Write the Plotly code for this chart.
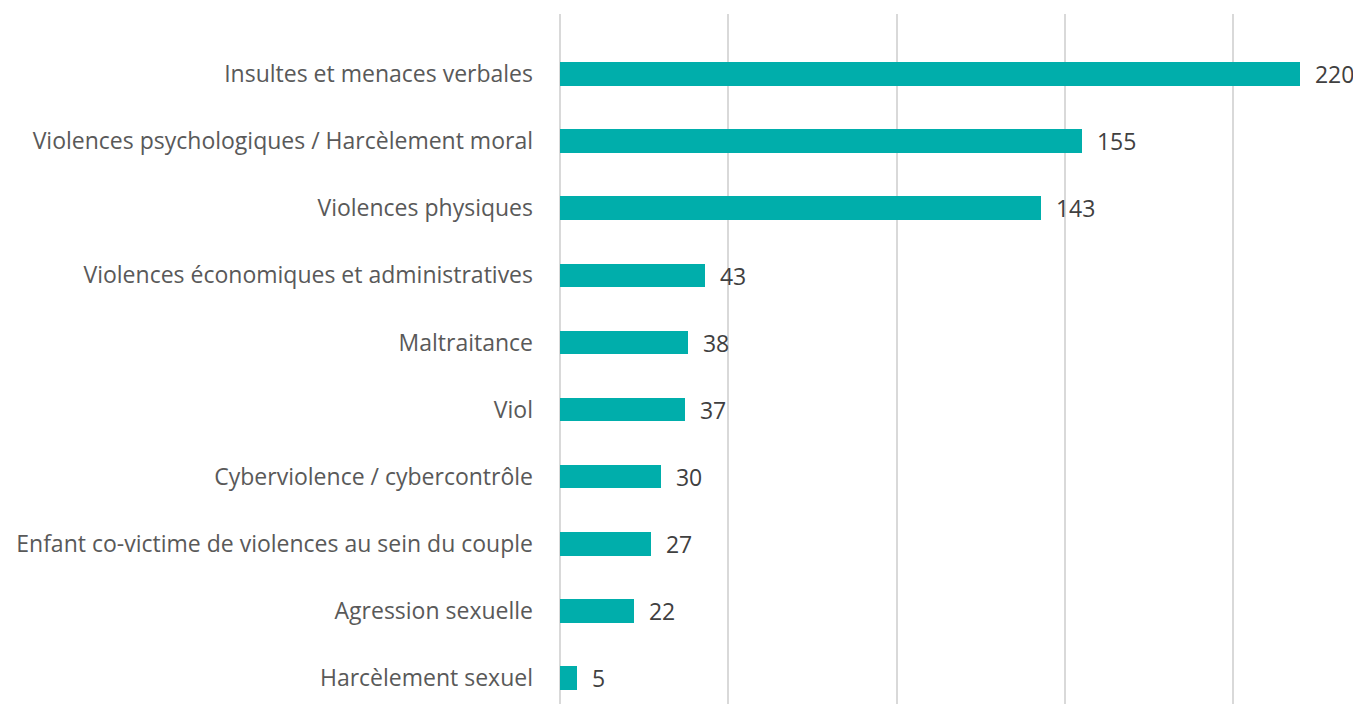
import plotly.graph_objects as go

categories = [
    "Harcèlement sexuel",
    "Agression sexuelle",
    "Enfant co-victime de violences au sein du couple",
    "Cyberviolence / cybercontrôle",
    "Viol",
    "Maltraitance",
    "Violences économiques et administratives",
    "Violences physiques",
    "Violences psychologiques / Harcèlement moral",
    "Insultes et menaces verbales",
]
values = [5, 22, 27, 30, 37, 38, 43, 143, 155, 220]
grid_ticks = [0, 50, 100, 150, 200]

FONT = "Open Sans"
fig = go.Figure(go.Bar(
    x=values, y=categories, orientation="h",
    marker=dict(color="#00AEAB", line=dict(width=0)),
    width=0.35,
    text=[f"  {v}" for v in values],
    textposition="outside",
    constraintext="none",
    textfont=dict(family=FONT, size=23, color="#404040"),
    cliponaxis=False,
))

fig.update_layout(
    width=1353, height=696,
    margin=dict(l=552, r=0, t=6, b=0),
    paper_bgcolor="white", plot_bgcolor="white",
    showlegend=False,
    bargap=0,
    uniformtext=dict(mode=False),
    font=dict(family=FONT, size=23, color="#595959"),
    xaxis=dict(
        range=[0, 238], tickvals=grid_ticks, showticklabels=False,
        showgrid=True, gridcolor="#D9D9D9", gridwidth=2,
        zeroline=True, zerolinecolor="#D9D9D9", zerolinewidth=2,
        showline=False, fixedrange=True,
    ),
    yaxis=dict(
        type="category", categoryorder="array", categoryarray=categories,
        range=[-0.387, 9.894], showgrid=False, zeroline=False,
        showline=False, ticks="", ticklabelstandoff=26,
        tickfont=dict(family=FONT, size=23, color="#595959"),
    ),
)

fig.write_html("out.html")
